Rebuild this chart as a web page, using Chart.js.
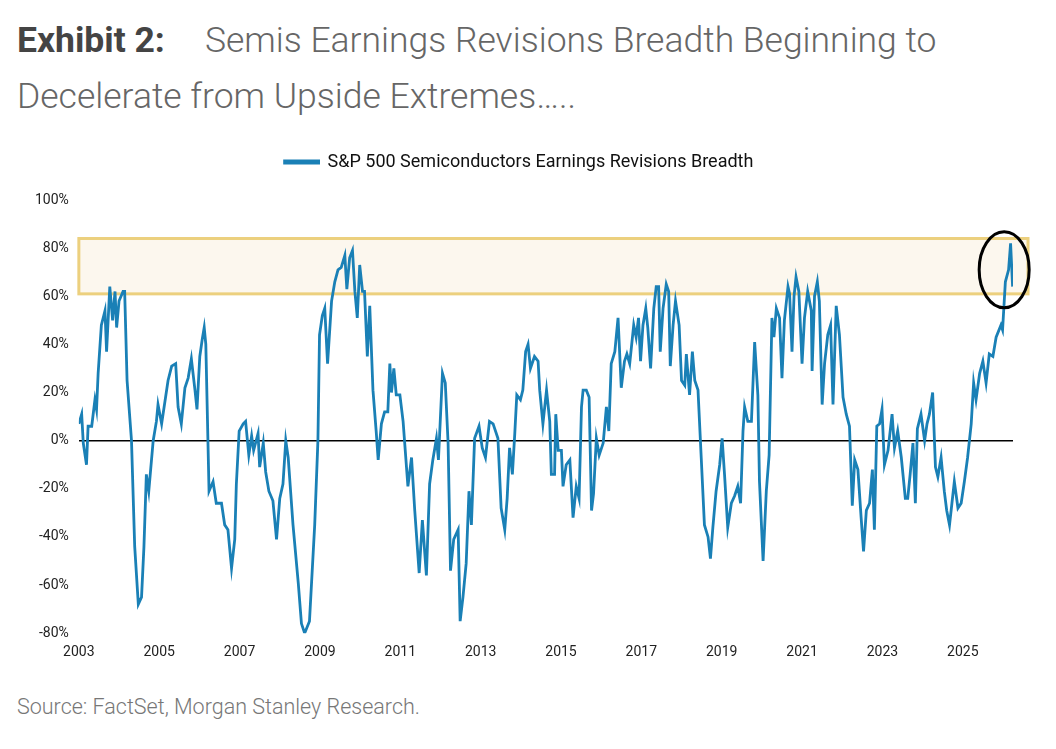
<!DOCTYPE html>
<html><head><meta charset="utf-8">
<script src="https://cdn.jsdelivr.net/npm/chart.js@4"></script>
<style>
body{margin:0;width:1056px;height:749px;background:#fff;font-family:Roboto,sans-serif;overflow:hidden;position:relative}
#t{position:absolute;left:17px;top:12px;font-size:35.5px;line-height:56px;color:#666;font-weight:300;white-space:nowrap}
#t b{color:#444;font-weight:700;margin-right:40px}
#src{position:absolute;left:17px;top:694px;font-size:21.5px;color:#777;font-weight:300}
#wrap{position:absolute;left:0;top:133px;width:1056px;height:540px}
</style></head><body>
<div id="t"><b>Exhibit 2:</b>Semis Earnings Revisions Breadth Beginning to<br>Decelerate from Upside Extremes…..</div>
<div id="wrap"><canvas id="c"></canvas></div>
<div id="src">Source: FactSet, Morgan Stanley Research.</div>
<script>
const seriesName="S&P 500 Semiconductors Earnings Revisions Breadth";
const years=[2003.0,2003.07,2003.11,2003.19,2003.23,2003.32,2003.40,2003.44,2003.48,2003.56,2003.65,2003.69,2003.77,2003.84,2003.90,2003.94,2004.00,2004.10,2004.14,2004.20,2004.31,2004.39,2004.48,2004.56,2004.62,2004.68,2004.74,2004.85,2004.93,2004.97,2005.06,2005.22,2005.31,2005.41,2005.47,2005.55,2005.64,2005.72,2005.80,2005.89,2005.94,2006.01,2006.07,2006.12,2006.16,2006.24,2006.34,2006.42,2006.55,2006.63,2006.71,2006.80,2006.88,2006.92,2006.99,2007.09,2007.15,2007.23,2007.30,2007.35,2007.46,2007.50,2007.59,2007.65,2007.73,2007.83,2007.92,2008.00,2008.08,2008.15,2008.21,2008.33,2008.46,2008.54,2008.62,2008.74,2008.87,2008.95,2008.99,2009.06,2009.12,2009.19,2009.29,2009.37,2009.45,2009.53,2009.62,2009.67,2009.74,2009.81,2009.87,2009.93,2009.99,2010.06,2010.11,2010.18,2010.24,2010.32,2010.40,2010.45,2010.53,2010.61,2010.69,2010.74,2010.78,2010.84,2010.90,2010.99,2011.07,2011.19,2011.28,2011.36,2011.47,2011.55,2011.65,2011.73,2011.81,2011.90,2011.95,2012.05,2012.12,2012.19,2012.25,2012.33,2012.44,2012.49,2012.56,2012.64,2012.71,2012.77,2012.85,2012.96,2013.04,2013.12,2013.22,2013.31,2013.43,2013.51,2013.60,2013.66,2013.72,2013.79,2013.85,2013.90,2013.99,2014.05,2014.12,2014.18,2014.24,2014.34,2014.43,
2014.47,2014.55,2014.64,2014.72,2014.76,2014.84,2014.87,2014.93,2015.01,2015.05,2015.13,2015.22,2015.30,2015.38,2015.45,2015.51,2015.55,2015.63,2015.70,2015.76,2015.81,2015.88,2015.95,2016.05,2016.13,2016.19,2016.25,2016.34,2016.42,2016.50,2016.58,2016.64,2016.71,2016.81,2016.87,2016.93,2016.98,2017.04,2017.11,2017.16,2017.23,2017.31,2017.37,2017.43,2017.47,2017.54,2017.62,2017.68,2017.72,2017.79,2017.85,2017.94,2018.00,2018.08,2018.12,2018.20,2018.27,2018.33,2018.41,2018.49,2018.57,2018.66,2018.72,2018.78,2018.86,2018.95,2019.01,2019.07,2019.15,2019.24,2019.32,2019.40,2019.47,2019.53,2019.57,2019.65,2019.74,2019.82,2019.90,2019.94,2020.03,2020.11,2020.18,2020.25,2020.30,2020.36,2020.44,2020.50,2020.56,2020.65,2020.69,2020.75,2020.80,2020.85,2020.92,2021.00,2021.06,2021.14,2021.23,2021.25,2021.31,2021.38,2021.43,2021.50,2021.56,2021.64,2021.71,2021.77,2021.85,2021.93,2022.02,2022.10,2022.18,2022.25,2022.31,2022.39,2022.47,2022.53,2022.60,2022.68,2022.75,2022.80,2022.86,2022.93,2022.99,2023.05,2023.14,2023.24,2023.30,2023.38,2023.47,2023.57,2023.63,2023.69,2023.76,2023.82,2023.87,2023.96,2024.05,2024.11,2024.17,2024.25,2024.32,2024.38,2024.46,2024.54,2024.60,2024.67,2024.73,2024.79,2024.88,2024.96,2025.04,2025.12,2025.21,2025.27,2025.33,2025.42,2025.50,2025.58,2025.66,2025.75,2025.83,2025.95,2025.99,2026.06,2026.14,2026.19,2026.24];
const breadth=[7,11,-1,-10,6,6,17,13,28,48,54,37,64,50,62,47,58,62,62,25,0,-44,-68,-65,-44,-14,-21,0,8,15,7,25,31,32,14,7,22,26,34,21,13,35,42,47,40,-21,-17,-26,-26,-35,-37,-53,-41,-18,4,7,8,-6,2,-4,3,-11,-1,-13,-21,-25,-41,-24,-18,0,-7,-35,-59,-76,-80,-75,-35,0,44,52,55,32,58,66,71,72,77,63,76,79,62,51,73,62,62,35,56,21,4,-8,7,12,12,32,20,30,19,19,8,-19,-7,-29,-55,-33,-56,-18,-8,1,-8,28,24,-1,-54,-41,-37,-75,-65,-51,-21,-35,1,6,-3,-7,8,7,1,-28,-37,-24,-3,-14,3,19,17,21,37,40,30,35,33,
21,7,21,8,-14,-14,11,-4,-4,-19,-10,-8,-32,-19,-24,14,21,21,18,-29,-22,1,-6,-1,14,4,32,37,51,22,33,36,32,48,43,51,33,48,55,47,30,55,64,64,37,55,65,62,31,48,58,48,25,23,36,19,37,25,21,-7,-35,-40,-49,-36,-21,-10,1,-14,-36,-26,-23,-19,-26,4,14,8,8,41,19,-17,-50,-21,-6,51,43,55,51,26,50,64,61,37,60,68,62,32,51,62,54,29,60,66,58,15,32,44,48,15,56,44,18,11,6,-27,-8,-12,-32,-46,-29,-26,-12,-37,6,7,13,-10,-4,11,-3,4,-7,-24,-24,-14,-1,-26,5,11,0,7,11,20,-11,-15,-7,-21,-29,-35,-26,-17,-28,-26,-17,-7,7,24,17,28,33,24,36,35,43,48,46,66,71,82,64];
const yTicks=[-80,-60,-40,-20,0,20,40,60,80,100];
const xTicks=[2003,2005,2007,2009,2011,2013,2015,2017,2019,2021,2023,2025];
const band=[61,84];
const circle={x:2026.03,y:71};
const pts=years.map((x,i)=>({x,y:breadth[i]}));
const deco={id:'deco',
 beforeDatasetsDraw(ch){const {ctx,scales:{x,y}}=ch;const y1=y.getPixelForValue(band[1]),y0=y.getPixelForValue(band[0]);
  ctx.save();ctx.fillStyle='#fcf7ee';ctx.strokeStyle='#ecd07e';ctx.lineWidth=3;
  const l=x.getPixelForValue(2003),r=x.right+15;ctx.fillRect(l,y1,r-l,y0-y1);ctx.strokeRect(l,y1,r-l,y0-y1);ctx.restore();},
 afterDatasetsDraw(ch){const {ctx,scales:{x,y}}=ch;ctx.save();ctx.strokeStyle='#000';ctx.lineWidth=3;ctx.beginPath();
  ctx.ellipse(x.getPixelForValue(circle.x),y.getPixelForValue(circle.y),25,38,0,0,Math.PI*2);ctx.stroke();ctx.restore();}};
new Chart(document.getElementById('c'),{type:'line',
 data:{datasets:[{label:seriesName,data:pts,borderColor:'#1a80b6',backgroundColor:'#1a80b6',borderWidth:2.8,pointRadius:0,tension:0}]},
 options:{responsive:true,maintainAspectRatio:false,animation:false,
  layout:{padding:{left:25,right:43,top:0,bottom:9}},
  plugins:{legend:{labels:{boxWidth:34,boxHeight:2,font:{family:'Roboto',size:18},color:'#111',padding:20},
    onClick:null},tooltip:{enabled:false}},
  scales:{
   x:{type:'linear',min:2003,max:2026.25,afterBuildTicks(a){a.ticks=xTicks.map(v=>({value:v}));},
      ticks:{callback:v=>String(v),font:{family:'Roboto',size:14},color:'#222',maxRotation:0,autoSkip:false},
      grid:{display:false},border:{display:false}},
   y:{min:-80,max:100,afterBuildTicks(a){a.ticks=yTicks.map(v=>({value:v}));},
      afterFit(a){},
      ticks:{callback:v=>v+'%',font:{family:'Roboto',size:14},color:'#222',padding:10},
      grid:{color:c=>c.tick&&c.tick.value===0?'#000':'rgba(0,0,0,0)',lineWidth:1.5,drawTicks:false},border:{display:false}}
  }},plugins:[deco,{id:'legendGap',beforeInit(ch){const f=ch.legend.fit;ch.legend.fit=function(){f.call(this);this.height+=19;};}}]});
</script></body></html>
